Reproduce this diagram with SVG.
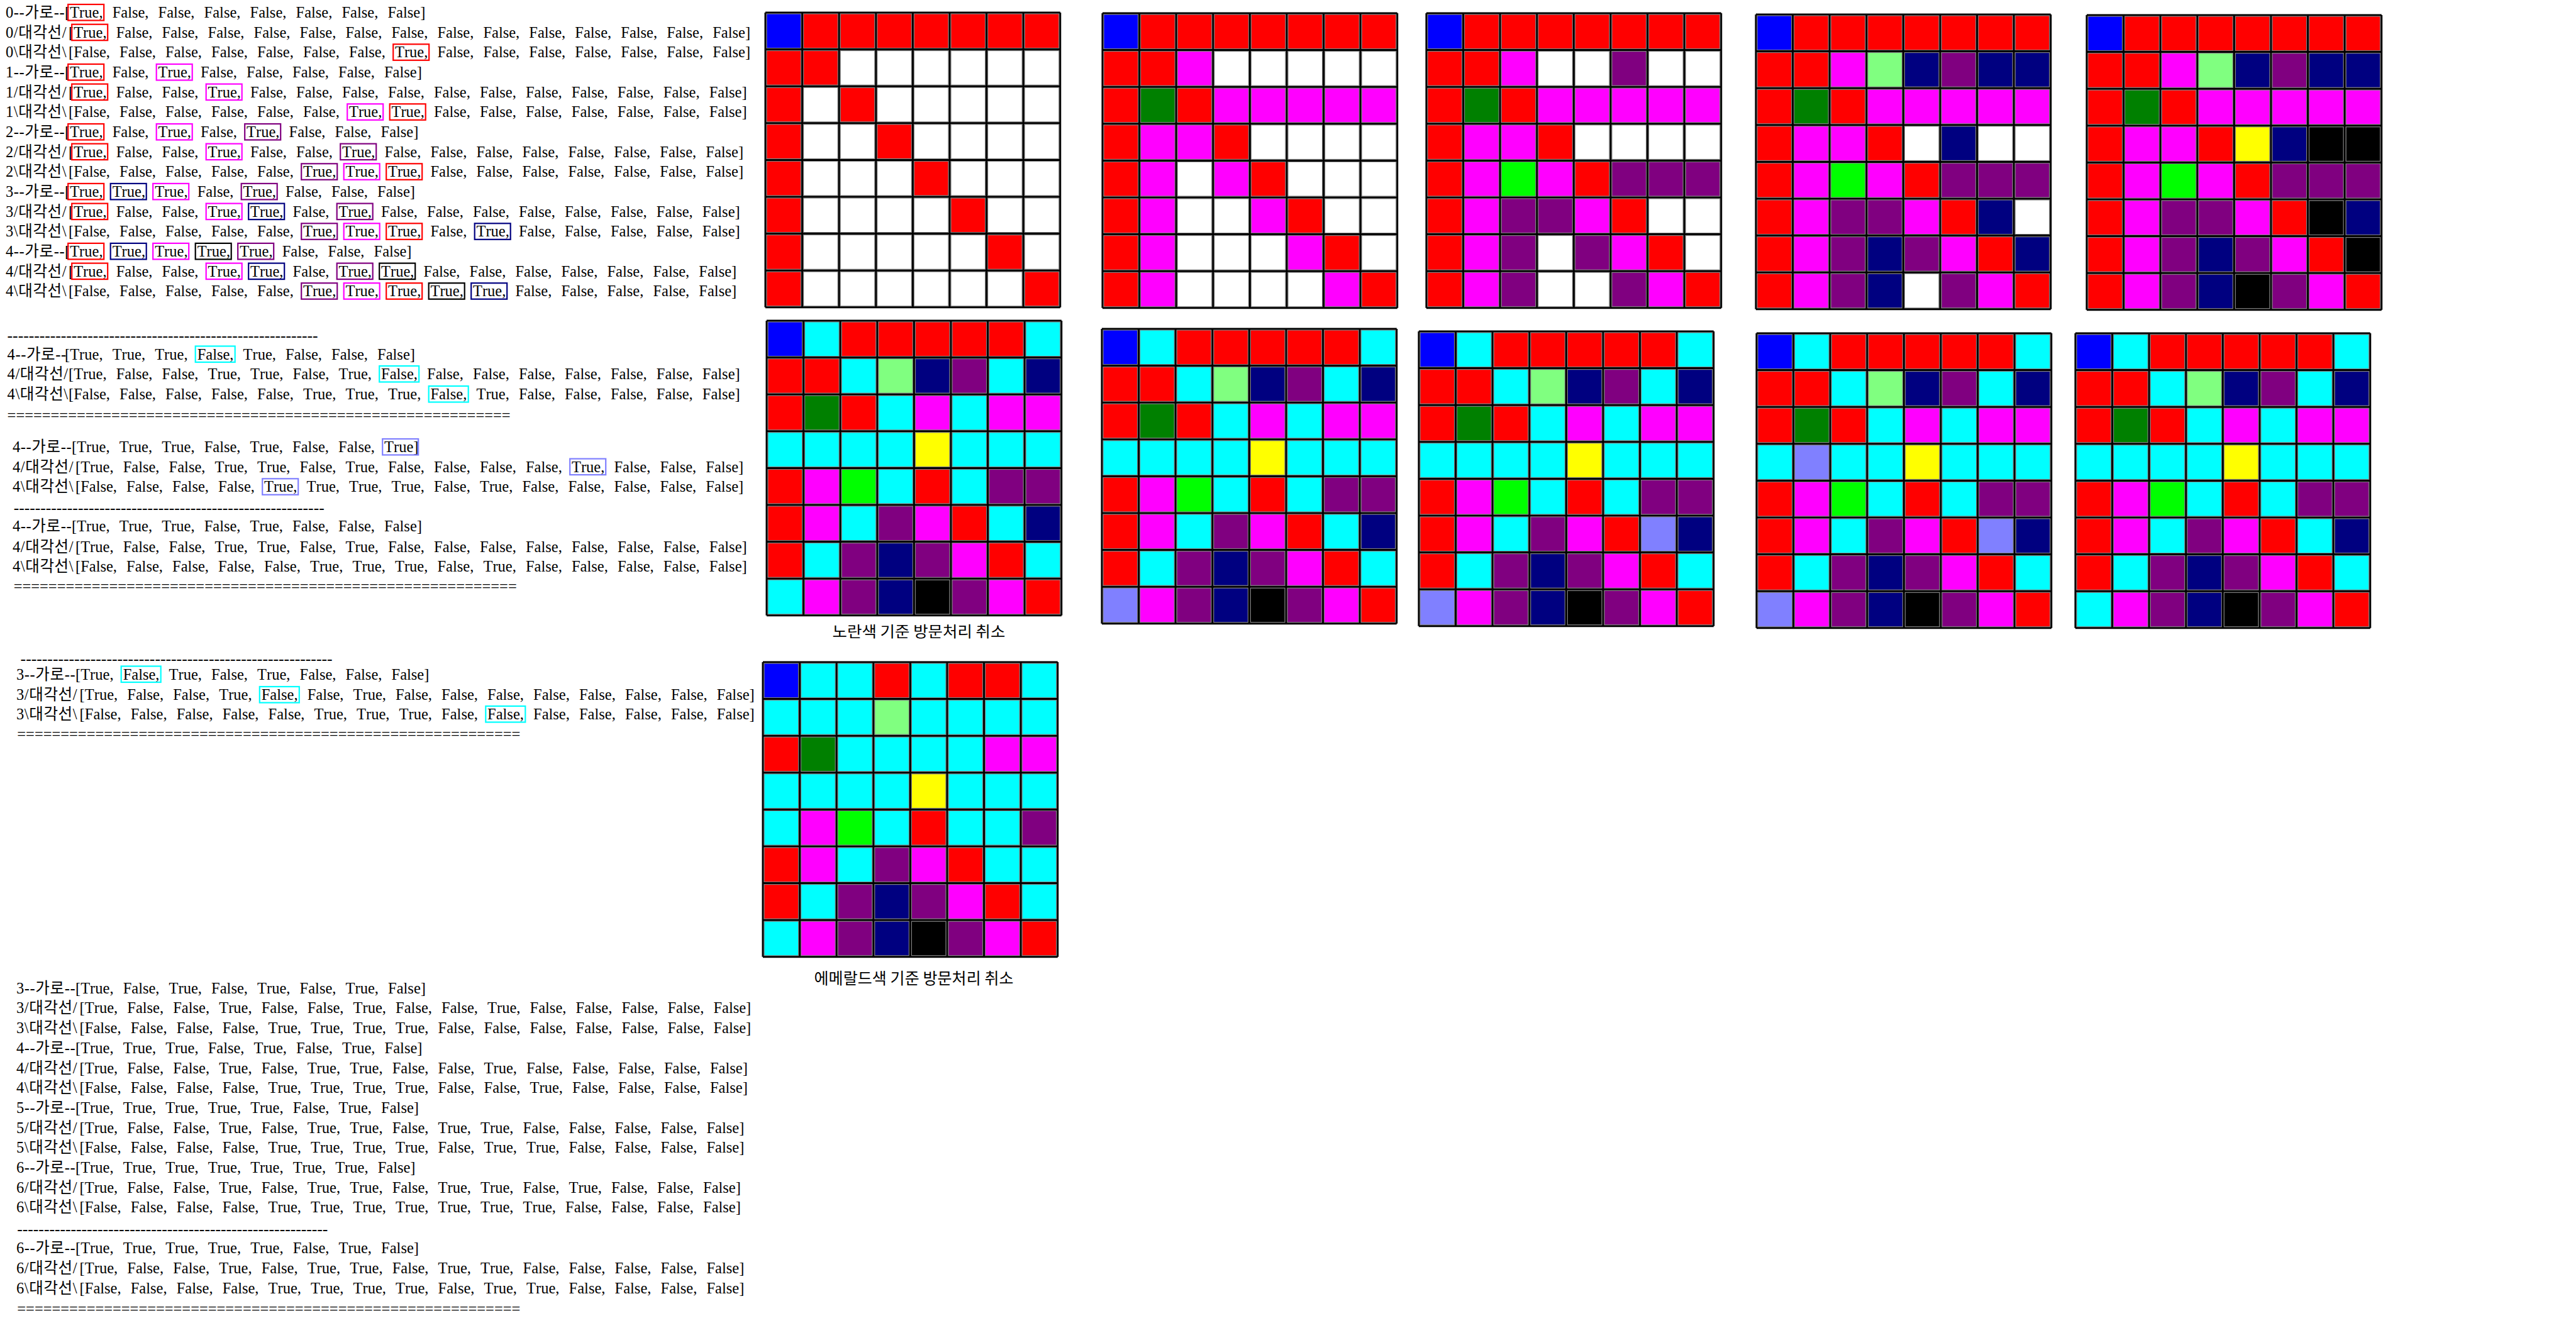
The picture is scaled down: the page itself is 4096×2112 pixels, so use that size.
<svg xmlns="http://www.w3.org/2000/svg" xmlns:xlink="http://www.w3.org/1999/xlink" width="4096" height="2112" viewBox="0 0 4096 2112">
<style>
text.t{font-family:"Liberation Serif","Noto Sans CJK KR",serif;font-size:24.5px;word-spacing:9px;font-kerning:none;fill:#000}
.pf{letter-spacing:0.6px}
text.lab{font-family:"Noto Sans CJK KR",sans-serif;fill:#000;text-anchor:middle}
.bx rect{fill:none;stroke-width:2.2;height:25.5px}
.bx .bT{width:57px}.bx .bF{width:63px}
.sr{stroke:#ff0000}.sm{stroke:#ff00ff}.sp{stroke:#800080}.sn{stroke:#000080}.sk{stroke:#000}.sc{stroke:#00ffff}.sv{stroke:#8080ff}
.grid rect{width:54.6px;height:54.6px;stroke:#808080;stroke-width:1.2}
.gl{fill:none;stroke:#000;stroke-width:3}
.R{fill:#ff0000}.W{fill:#fff}.B{fill:#0000ff}.M{fill:#ff00ff}.G{fill:#008000}.P{fill:#800080}.N{fill:#000080}.L{fill:#80ff80}.Y{fill:#ffff00}.I{fill:#00ff00}.K{fill:#000}.C{fill:#00ffff}.V{fill:#8080ff}
</style>
<defs>
<path id="gridlines" class="gl" d="M0 0H468.8M0 58.6H468.8M0 117.2H468.8M0 175.8H468.8M0 234.4H468.8M0 293H468.8M0 351.6H468.8M0 410.2H468.8M0 468.8H468.8M0 0V468.8M58.6 0V468.8M117.2 0V468.8M175.8 0V468.8M234.4 0V468.8M293 0V468.8M351.6 0V468.8M410.2 0V468.8M468.8 0V468.8"/>
</defs>
<rect width="4096" height="2112" fill="#fff"/>

<g id="log-text">
<text class="t" x="9" y="28"><tspan class="pf">0--가로--</tspan><tspan x="103">[True, False, False, False, False, False, False, False]</tspan></text>
<text class="t" x="9" y="59.7"><tspan class="pf">0/대각선/</tspan><tspan x="109">[True, False, False, False, False, False, False, False, False, False, False, False, False, False, False]</tspan></text>
<text class="t" x="9" y="91.3"><tspan class="pf">0\대각선\</tspan><tspan x="109">[False, False, False, False, False, False, False, True, False, False, False, False, False, False, False]</tspan></text>
<text class="t" x="9" y="123"><tspan class="pf">1--가로--</tspan><tspan x="103">[True, False, True, False, False, False, False, False]</tspan></text>
<text class="t" x="9" y="154.6"><tspan class="pf">1/대각선/</tspan><tspan x="109">[True, False, False, True, False, False, False, False, False, False, False, False, False, False, False]</tspan></text>
<text class="t" x="9" y="186.3"><tspan class="pf">1\대각선\</tspan><tspan x="109">[False, False, False, False, False, False, True, True, False, False, False, False, False, False, False]</tspan></text>
<text class="t" x="9" y="218"><tspan class="pf">2--가로--</tspan><tspan x="103">[True, False, True, False, True, False, False, False]</tspan></text>
<text class="t" x="9" y="249.6"><tspan class="pf">2/대각선/</tspan><tspan x="109">[True, False, False, True, False, False, True, False, False, False, False, False, False, False, False]</tspan></text>
<text class="t" x="9" y="281.3"><tspan class="pf">2\대각선\</tspan><tspan x="109">[False, False, False, False, False, True, True, True, False, False, False, False, False, False, False]</tspan></text>
<text class="t" x="9" y="312.9"><tspan class="pf">3--가로--</tspan><tspan x="103">[True, True, True, False, True, False, False, False]</tspan></text>
<text class="t" x="9" y="344.6"><tspan class="pf">3/대각선/</tspan><tspan x="109">[True, False, False, True, True, False, True, False, False, False, False, False, False, False, False]</tspan></text>
<text class="t" x="9" y="376.3"><tspan class="pf">3\대각선\</tspan><tspan x="109">[False, False, False, False, False, True, True, True, False, True, False, False, False, False, False]</tspan></text>
<text class="t" x="9" y="407.9"><tspan class="pf">4--가로--</tspan><tspan x="103">[True, True, True, True, True, False, False, False]</tspan></text>
<text class="t" x="9" y="439.6"><tspan class="pf">4/대각선/</tspan><tspan x="109">[True, False, False, True, True, False, True, True, False, False, False, False, False, False, False]</tspan></text>
<text class="t" x="9" y="471.2"><tspan class="pf">4\대각선\</tspan><tspan x="109">[False, False, False, False, False, True, True, True, True, True, False, False, False, False, False]</tspan></text>

<text class="t" x="11.6" y="541.5" textLength="494" lengthAdjust="spacingAndGlyphs">----------------------------------------------------------</text>
<text class="t" x="11.6" y="571.5"><tspan class="pf">4--가로--</tspan><tspan x="103">[True, True, True, False, True, False, False, False]</tspan></text>
<text class="t" x="11.6" y="603"><tspan class="pf">4/대각선/</tspan><tspan x="109">[True, False, False, True, True, False, True, False, False, False, False, False, False, False, False]</tspan></text>
<text class="t" x="11.6" y="635"><tspan class="pf">4\대각선\</tspan><tspan x="109">[False, False, False, False, False, True, True, True, False, True, False, False, False, False, False]</tspan></text>
<text class="t" x="11.6" y="668.8" textLength="800" lengthAdjust="spacingAndGlyphs">==========================================================</text>

<text class="t" x="20" y="719"><tspan class="pf">4--가로--</tspan><tspan x="114">[True, True, True, False, True, False, False, True]</tspan></text>
<text class="t" x="20" y="750.6"><tspan class="pf">4/대각선/</tspan><tspan x="120">[True, False, False, True, True, False, True, False, False, False, False, True, False, False, False]</tspan></text>
<text class="t" x="20" y="782.3"><tspan class="pf">4\대각선\</tspan><tspan x="120">[False, False, False, False, True, True, True, True, False, True, False, False, False, False, False]</tspan></text>
<text class="t" x="21.7" y="816" textLength="494" lengthAdjust="spacingAndGlyphs">----------------------------------------------------------</text>
<text class="t" x="20" y="845"><tspan class="pf">4--가로--</tspan><tspan x="114">[True, True, True, False, True, False, False, False]</tspan></text>
<text class="t" x="20" y="877.6"><tspan class="pf">4/대각선/</tspan><tspan x="120">[True, False, False, True, True, False, True, False, False, False, False, False, False, False, False]</tspan></text>
<text class="t" x="20" y="908.5"><tspan class="pf">4\대각선\</tspan><tspan x="120">[False, False, False, False, False, True, True, True, False, True, False, False, False, False, False]</tspan></text>
<text class="t" x="21.7" y="941" textLength="800" lengthAdjust="spacingAndGlyphs">==========================================================</text>

<text class="t" x="32.6" y="1056" textLength="496" lengthAdjust="spacingAndGlyphs">----------------------------------------------------------</text>
<text class="t" x="26" y="1080.5"><tspan class="pf">3--가로--</tspan><tspan x="120">[True, False, True, False, True, False, False, False]</tspan></text>
<text class="t" x="26" y="1113"><tspan class="pf">3/대각선/</tspan><tspan x="126.6">[True, False, False, True, False, False, True, False, False, False, False, False, False, False, False]</tspan></text>
<text class="t" x="26" y="1144"><tspan class="pf">3\대각선\</tspan><tspan x="126.6">[False, False, False, False, False, True, True, True, False, False, False, False, False, False, False]</tspan></text>
<text class="t" x="27.3" y="1176" textLength="800" lengthAdjust="spacingAndGlyphs">==========================================================</text>

<text class="t" x="26" y="1579.7"><tspan class="pf">3--가로--</tspan><tspan x="120">[True, False, True, False, True, False, True, False]</tspan></text>
<text class="t" x="26" y="1611.4"><tspan class="pf">3/대각선/</tspan><tspan x="126.6">[True, False, False, True, False, False, True, False, False, True, False, False, False, False, False]</tspan></text>
<text class="t" x="26" y="1643.1"><tspan class="pf">3\대각선\</tspan><tspan x="126.6">[False, False, False, False, True, True, True, True, False, False, False, False, False, False, False]</tspan></text>
<text class="t" x="26" y="1674.8"><tspan class="pf">4--가로--</tspan><tspan x="120">[True, True, True, False, True, False, True, False]</tspan></text>
<text class="t" x="26" y="1706.5"><tspan class="pf">4/대각선/</tspan><tspan x="126.6">[True, False, False, True, False, True, True, False, False, True, False, False, False, False, False]</tspan></text>
<text class="t" x="26" y="1738.2"><tspan class="pf">4\대각선\</tspan><tspan x="126.6">[False, False, False, False, True, True, True, True, False, False, True, False, False, False, False]</tspan></text>
<text class="t" x="26" y="1769.9"><tspan class="pf">5--가로--</tspan><tspan x="120">[True, True, True, True, True, False, True, False]</tspan></text>
<text class="t" x="26" y="1801.6"><tspan class="pf">5/대각선/</tspan><tspan x="126.6">[True, False, False, True, False, True, True, False, True, True, False, False, False, False, False]</tspan></text>
<text class="t" x="26" y="1833.3"><tspan class="pf">5\대각선\</tspan><tspan x="126.6">[False, False, False, False, True, True, True, True, False, True, True, False, False, False, False]</tspan></text>
<text class="t" x="26" y="1865"><tspan class="pf">6--가로--</tspan><tspan x="120">[True, True, True, True, True, True, True, False]</tspan></text>
<text class="t" x="26" y="1896.7"><tspan class="pf">6/대각선/</tspan><tspan x="126.6">[True, False, False, True, False, True, True, False, True, True, False, True, False, False, False]</tspan></text>
<text class="t" x="26" y="1928.4"><tspan class="pf">6\대각선\</tspan><tspan x="126.6">[False, False, False, False, True, True, True, True, True, True, True, False, False, False, False]</tspan></text>
<text class="t" x="27.3" y="1963" textLength="494" lengthAdjust="spacingAndGlyphs">----------------------------------------------------------</text>
<text class="t" x="26" y="1993.3"><tspan class="pf">6--가로--</tspan><tspan x="120">[True, True, True, True, True, False, True, False]</tspan></text>
<text class="t" x="26" y="2025"><tspan class="pf">6/대각선/</tspan><tspan x="126.6">[True, False, False, True, False, True, True, False, True, True, False, False, False, False, False]</tspan></text>
<text class="t" x="26" y="2056.8"><tspan class="pf">6\대각선\</tspan><tspan x="126.6">[False, False, False, False, True, True, True, True, False, True, True, False, False, False, False]</tspan></text>
<text class="t" x="27.3" y="2090" textLength="800" lengthAdjust="spacingAndGlyphs">==========================================================</text>
</g>

<g id="highlight-boxes" class="bx">
<rect class="bT sr" x="108.2" y="7"/>
<rect class="bT sr" x="114.2" y="38.7"/>
<rect class="bT sr" x="625.2" y="70.3"/>
<rect class="bT sr" x="108.2" y="102"/><rect class="bT sm" x="248.7" y="102"/>
<rect class="bT sr" x="114.2" y="133.6"/><rect class="bT sm" x="327.7" y="133.6"/>
<rect class="bT sm" x="552.2" y="165.3"/><rect class="bT sr" x="619.7" y="165.3"/>
<rect class="bT sr" x="108.2" y="197"/><rect class="bT sm" x="248.7" y="197"/><rect class="bT sp" x="389.2" y="197"/>
<rect class="bT sr" x="114.2" y="228.6"/><rect class="bT sm" x="327.7" y="228.6"/><rect class="bT sp" x="541.2" y="228.6"/>
<rect class="bT sp" x="479.2" y="260.3"/><rect class="bT sm" x="546.7" y="260.3"/><rect class="bT sr" x="614.2" y="260.3"/>
<rect class="bT sr" x="108.2" y="291.9"/><rect class="bT sn" x="175.7" y="291.9"/><rect class="bT sm" x="243.2" y="291.9"/><rect class="bT sp" x="383.7" y="291.9"/>
<rect class="bT sr" x="114.2" y="323.6"/><rect class="bT sm" x="327.7" y="323.6"/><rect class="bT sn" x="395.2" y="323.6"/><rect class="bT sp" x="535.7" y="323.6"/>
<rect class="bT sp" x="479.2" y="355.3"/><rect class="bT sm" x="546.7" y="355.3"/><rect class="bT sr" x="614.2" y="355.3"/><rect class="bT sn" x="754.7" y="355.3"/>
<rect class="bT sr" x="108.2" y="386.9"/><rect class="bT sn" x="175.7" y="386.9"/><rect class="bT sm" x="243.2" y="386.9"/><rect class="bT sk" x="310.7" y="386.9"/><rect class="bT sp" x="378.2" y="386.9"/>
<rect class="bT sr" x="114.2" y="418.6"/><rect class="bT sm" x="327.7" y="418.6"/><rect class="bT sn" x="395.2" y="418.6"/><rect class="bT sp" x="535.7" y="418.6"/><rect class="bT sk" x="603.2" y="418.6"/>
<rect class="bT sp" x="479.2" y="450.2"/><rect class="bT sm" x="546.7" y="450.2"/><rect class="bT sr" x="614.2" y="450.2"/><rect class="bT sk" x="681.7" y="450.2"/><rect class="bT sn" x="749.2" y="450.2"/>
<rect class="bF sc" x="310.7" y="550.5"/>
<rect class="bF sc" x="603.2" y="582"/>
<rect class="bF sc" x="681.7" y="614"/>
<rect class="bT sv" x="608.2" y="698"/>
<rect class="bT sv" x="906.2" y="729.6"/>
<rect class="bT sv" x="417.2" y="761.3"/>
<rect class="bF sc" x="192.7" y="1059.5"/>
<rect class="bF sc" x="412.8" y="1092"/>
<rect class="bF sc" x="772.3" y="1123"/>
</g>

<g id="grid1" class="grid" transform="translate(1217,20)">
<rect class="B" x="2" y="2"/><rect class="R" x="60.6" y="2"/><rect class="R" x="119.2" y="2"/><rect class="R" x="177.8" y="2"/><rect class="R" x="236.4" y="2"/><rect class="R" x="295" y="2"/><rect class="R" x="353.6" y="2"/><rect class="R" x="412.2" y="2"/>
<rect class="R" x="2" y="60.6"/><rect class="R" x="60.6" y="60.6"/><rect class="W" x="119.2" y="60.6"/><rect class="W" x="177.8" y="60.6"/><rect class="W" x="236.4" y="60.6"/><rect class="W" x="295" y="60.6"/><rect class="W" x="353.6" y="60.6"/><rect class="W" x="412.2" y="60.6"/>
<rect class="R" x="2" y="119.2"/><rect class="W" x="60.6" y="119.2"/><rect class="R" x="119.2" y="119.2"/><rect class="W" x="177.8" y="119.2"/><rect class="W" x="236.4" y="119.2"/><rect class="W" x="295" y="119.2"/><rect class="W" x="353.6" y="119.2"/><rect class="W" x="412.2" y="119.2"/>
<rect class="R" x="2" y="177.8"/><rect class="W" x="60.6" y="177.8"/><rect class="W" x="119.2" y="177.8"/><rect class="R" x="177.8" y="177.8"/><rect class="W" x="236.4" y="177.8"/><rect class="W" x="295" y="177.8"/><rect class="W" x="353.6" y="177.8"/><rect class="W" x="412.2" y="177.8"/>
<rect class="R" x="2" y="236.4"/><rect class="W" x="60.6" y="236.4"/><rect class="W" x="119.2" y="236.4"/><rect class="W" x="177.8" y="236.4"/><rect class="R" x="236.4" y="236.4"/><rect class="W" x="295" y="236.4"/><rect class="W" x="353.6" y="236.4"/><rect class="W" x="412.2" y="236.4"/>
<rect class="R" x="2" y="295"/><rect class="W" x="60.6" y="295"/><rect class="W" x="119.2" y="295"/><rect class="W" x="177.8" y="295"/><rect class="W" x="236.4" y="295"/><rect class="R" x="295" y="295"/><rect class="W" x="353.6" y="295"/><rect class="W" x="412.2" y="295"/>
<rect class="R" x="2" y="353.6"/><rect class="W" x="60.6" y="353.6"/><rect class="W" x="119.2" y="353.6"/><rect class="W" x="177.8" y="353.6"/><rect class="W" x="236.4" y="353.6"/><rect class="W" x="295" y="353.6"/><rect class="R" x="353.6" y="353.6"/><rect class="W" x="412.2" y="353.6"/>
<rect class="R" x="2" y="412.2"/><rect class="W" x="60.6" y="412.2"/><rect class="W" x="119.2" y="412.2"/><rect class="W" x="177.8" y="412.2"/><rect class="W" x="236.4" y="412.2"/><rect class="W" x="295" y="412.2"/><rect class="W" x="353.6" y="412.2"/><rect class="R" x="412.2" y="412.2"/>
<use href="#gridlines"/>
</g>

<g id="grid2" class="grid" transform="translate(1753,21)">
<rect class="B" x="2" y="2"/><rect class="R" x="60.6" y="2"/><rect class="R" x="119.2" y="2"/><rect class="R" x="177.8" y="2"/><rect class="R" x="236.4" y="2"/><rect class="R" x="295" y="2"/><rect class="R" x="353.6" y="2"/><rect class="R" x="412.2" y="2"/>
<rect class="R" x="2" y="60.6"/><rect class="R" x="60.6" y="60.6"/><rect class="M" x="119.2" y="60.6"/><rect class="W" x="177.8" y="60.6"/><rect class="W" x="236.4" y="60.6"/><rect class="W" x="295" y="60.6"/><rect class="W" x="353.6" y="60.6"/><rect class="W" x="412.2" y="60.6"/>
<rect class="R" x="2" y="119.2"/><rect class="G" x="60.6" y="119.2"/><rect class="R" x="119.2" y="119.2"/><rect class="M" x="177.8" y="119.2"/><rect class="M" x="236.4" y="119.2"/><rect class="M" x="295" y="119.2"/><rect class="M" x="353.6" y="119.2"/><rect class="M" x="412.2" y="119.2"/>
<rect class="R" x="2" y="177.8"/><rect class="M" x="60.6" y="177.8"/><rect class="M" x="119.2" y="177.8"/><rect class="R" x="177.8" y="177.8"/><rect class="W" x="236.4" y="177.8"/><rect class="W" x="295" y="177.8"/><rect class="W" x="353.6" y="177.8"/><rect class="W" x="412.2" y="177.8"/>
<rect class="R" x="2" y="236.4"/><rect class="M" x="60.6" y="236.4"/><rect class="W" x="119.2" y="236.4"/><rect class="M" x="177.8" y="236.4"/><rect class="R" x="236.4" y="236.4"/><rect class="W" x="295" y="236.4"/><rect class="W" x="353.6" y="236.4"/><rect class="W" x="412.2" y="236.4"/>
<rect class="R" x="2" y="295"/><rect class="M" x="60.6" y="295"/><rect class="W" x="119.2" y="295"/><rect class="W" x="177.8" y="295"/><rect class="M" x="236.4" y="295"/><rect class="R" x="295" y="295"/><rect class="W" x="353.6" y="295"/><rect class="W" x="412.2" y="295"/>
<rect class="R" x="2" y="353.6"/><rect class="M" x="60.6" y="353.6"/><rect class="W" x="119.2" y="353.6"/><rect class="W" x="177.8" y="353.6"/><rect class="W" x="236.4" y="353.6"/><rect class="M" x="295" y="353.6"/><rect class="R" x="353.6" y="353.6"/><rect class="W" x="412.2" y="353.6"/>
<rect class="R" x="2" y="412.2"/><rect class="M" x="60.6" y="412.2"/><rect class="W" x="119.2" y="412.2"/><rect class="W" x="177.8" y="412.2"/><rect class="W" x="236.4" y="412.2"/><rect class="W" x="295" y="412.2"/><rect class="M" x="353.6" y="412.2"/><rect class="R" x="412.2" y="412.2"/>
<use href="#gridlines"/>
</g>

<g id="grid3" class="grid" transform="translate(2268,21)">
<rect class="B" x="2" y="2"/><rect class="R" x="60.6" y="2"/><rect class="R" x="119.2" y="2"/><rect class="R" x="177.8" y="2"/><rect class="R" x="236.4" y="2"/><rect class="R" x="295" y="2"/><rect class="R" x="353.6" y="2"/><rect class="R" x="412.2" y="2"/>
<rect class="R" x="2" y="60.6"/><rect class="R" x="60.6" y="60.6"/><rect class="M" x="119.2" y="60.6"/><rect class="W" x="177.8" y="60.6"/><rect class="W" x="236.4" y="60.6"/><rect class="P" x="295" y="60.6"/><rect class="W" x="353.6" y="60.6"/><rect class="W" x="412.2" y="60.6"/>
<rect class="R" x="2" y="119.2"/><rect class="G" x="60.6" y="119.2"/><rect class="R" x="119.2" y="119.2"/><rect class="M" x="177.8" y="119.2"/><rect class="M" x="236.4" y="119.2"/><rect class="M" x="295" y="119.2"/><rect class="M" x="353.6" y="119.2"/><rect class="M" x="412.2" y="119.2"/>
<rect class="R" x="2" y="177.8"/><rect class="M" x="60.6" y="177.8"/><rect class="M" x="119.2" y="177.8"/><rect class="R" x="177.8" y="177.8"/><rect class="W" x="236.4" y="177.8"/><rect class="W" x="295" y="177.8"/><rect class="W" x="353.6" y="177.8"/><rect class="W" x="412.2" y="177.8"/>
<rect class="R" x="2" y="236.4"/><rect class="M" x="60.6" y="236.4"/><rect class="I" x="119.2" y="236.4"/><rect class="M" x="177.8" y="236.4"/><rect class="R" x="236.4" y="236.4"/><rect class="P" x="295" y="236.4"/><rect class="P" x="353.6" y="236.4"/><rect class="P" x="412.2" y="236.4"/>
<rect class="R" x="2" y="295"/><rect class="M" x="60.6" y="295"/><rect class="P" x="119.2" y="295"/><rect class="P" x="177.8" y="295"/><rect class="M" x="236.4" y="295"/><rect class="R" x="295" y="295"/><rect class="W" x="353.6" y="295"/><rect class="W" x="412.2" y="295"/>
<rect class="R" x="2" y="353.6"/><rect class="M" x="60.6" y="353.6"/><rect class="P" x="119.2" y="353.6"/><rect class="W" x="177.8" y="353.6"/><rect class="P" x="236.4" y="353.6"/><rect class="M" x="295" y="353.6"/><rect class="R" x="353.6" y="353.6"/><rect class="W" x="412.2" y="353.6"/>
<rect class="R" x="2" y="412.2"/><rect class="M" x="60.6" y="412.2"/><rect class="P" x="119.2" y="412.2"/><rect class="W" x="177.8" y="412.2"/><rect class="W" x="236.4" y="412.2"/><rect class="P" x="295" y="412.2"/><rect class="M" x="353.6" y="412.2"/><rect class="R" x="412.2" y="412.2"/>
<use href="#gridlines"/>
</g>

<g id="grid4" class="grid" transform="translate(2792,23)">
<rect class="B" x="2" y="2"/><rect class="R" x="60.6" y="2"/><rect class="R" x="119.2" y="2"/><rect class="R" x="177.8" y="2"/><rect class="R" x="236.4" y="2"/><rect class="R" x="295" y="2"/><rect class="R" x="353.6" y="2"/><rect class="R" x="412.2" y="2"/>
<rect class="R" x="2" y="60.6"/><rect class="R" x="60.6" y="60.6"/><rect class="M" x="119.2" y="60.6"/><rect class="L" x="177.8" y="60.6"/><rect class="N" x="236.4" y="60.6"/><rect class="P" x="295" y="60.6"/><rect class="N" x="353.6" y="60.6"/><rect class="N" x="412.2" y="60.6"/>
<rect class="R" x="2" y="119.2"/><rect class="G" x="60.6" y="119.2"/><rect class="R" x="119.2" y="119.2"/><rect class="M" x="177.8" y="119.2"/><rect class="M" x="236.4" y="119.2"/><rect class="M" x="295" y="119.2"/><rect class="M" x="353.6" y="119.2"/><rect class="M" x="412.2" y="119.2"/>
<rect class="R" x="2" y="177.8"/><rect class="M" x="60.6" y="177.8"/><rect class="M" x="119.2" y="177.8"/><rect class="R" x="177.8" y="177.8"/><rect class="W" x="236.4" y="177.8"/><rect class="N" x="295" y="177.8"/><rect class="W" x="353.6" y="177.8"/><rect class="W" x="412.2" y="177.8"/>
<rect class="R" x="2" y="236.4"/><rect class="M" x="60.6" y="236.4"/><rect class="I" x="119.2" y="236.4"/><rect class="M" x="177.8" y="236.4"/><rect class="R" x="236.4" y="236.4"/><rect class="P" x="295" y="236.4"/><rect class="P" x="353.6" y="236.4"/><rect class="P" x="412.2" y="236.4"/>
<rect class="R" x="2" y="295"/><rect class="M" x="60.6" y="295"/><rect class="P" x="119.2" y="295"/><rect class="P" x="177.8" y="295"/><rect class="M" x="236.4" y="295"/><rect class="R" x="295" y="295"/><rect class="N" x="353.6" y="295"/><rect class="W" x="412.2" y="295"/>
<rect class="R" x="2" y="353.6"/><rect class="M" x="60.6" y="353.6"/><rect class="P" x="119.2" y="353.6"/><rect class="N" x="177.8" y="353.6"/><rect class="P" x="236.4" y="353.6"/><rect class="M" x="295" y="353.6"/><rect class="R" x="353.6" y="353.6"/><rect class="N" x="412.2" y="353.6"/>
<rect class="R" x="2" y="412.2"/><rect class="M" x="60.6" y="412.2"/><rect class="P" x="119.2" y="412.2"/><rect class="N" x="177.8" y="412.2"/><rect class="W" x="236.4" y="412.2"/><rect class="P" x="295" y="412.2"/><rect class="M" x="353.6" y="412.2"/><rect class="R" x="412.2" y="412.2"/>
<use href="#gridlines"/>
</g>

<g id="grid5" class="grid" transform="translate(3318,24)">
<rect class="B" x="2" y="2"/><rect class="R" x="60.6" y="2"/><rect class="R" x="119.2" y="2"/><rect class="R" x="177.8" y="2"/><rect class="R" x="236.4" y="2"/><rect class="R" x="295" y="2"/><rect class="R" x="353.6" y="2"/><rect class="R" x="412.2" y="2"/>
<rect class="R" x="2" y="60.6"/><rect class="R" x="60.6" y="60.6"/><rect class="M" x="119.2" y="60.6"/><rect class="L" x="177.8" y="60.6"/><rect class="N" x="236.4" y="60.6"/><rect class="P" x="295" y="60.6"/><rect class="N" x="353.6" y="60.6"/><rect class="N" x="412.2" y="60.6"/>
<rect class="R" x="2" y="119.2"/><rect class="G" x="60.6" y="119.2"/><rect class="R" x="119.2" y="119.2"/><rect class="M" x="177.8" y="119.2"/><rect class="M" x="236.4" y="119.2"/><rect class="M" x="295" y="119.2"/><rect class="M" x="353.6" y="119.2"/><rect class="M" x="412.2" y="119.2"/>
<rect class="R" x="2" y="177.8"/><rect class="M" x="60.6" y="177.8"/><rect class="M" x="119.2" y="177.8"/><rect class="R" x="177.8" y="177.8"/><rect class="Y" x="236.4" y="177.8"/><rect class="N" x="295" y="177.8"/><rect class="K" x="353.6" y="177.8"/><rect class="K" x="412.2" y="177.8"/>
<rect class="R" x="2" y="236.4"/><rect class="M" x="60.6" y="236.4"/><rect class="I" x="119.2" y="236.4"/><rect class="M" x="177.8" y="236.4"/><rect class="R" x="236.4" y="236.4"/><rect class="P" x="295" y="236.4"/><rect class="P" x="353.6" y="236.4"/><rect class="P" x="412.2" y="236.4"/>
<rect class="R" x="2" y="295"/><rect class="M" x="60.6" y="295"/><rect class="P" x="119.2" y="295"/><rect class="P" x="177.8" y="295"/><rect class="M" x="236.4" y="295"/><rect class="R" x="295" y="295"/><rect class="K" x="353.6" y="295"/><rect class="N" x="412.2" y="295"/>
<rect class="R" x="2" y="353.6"/><rect class="M" x="60.6" y="353.6"/><rect class="P" x="119.2" y="353.6"/><rect class="N" x="177.8" y="353.6"/><rect class="P" x="236.4" y="353.6"/><rect class="M" x="295" y="353.6"/><rect class="R" x="353.6" y="353.6"/><rect class="K" x="412.2" y="353.6"/>
<rect class="R" x="2" y="412.2"/><rect class="M" x="60.6" y="412.2"/><rect class="P" x="119.2" y="412.2"/><rect class="N" x="177.8" y="412.2"/><rect class="K" x="236.4" y="412.2"/><rect class="P" x="295" y="412.2"/><rect class="M" x="353.6" y="412.2"/><rect class="R" x="412.2" y="412.2"/>
<use href="#gridlines"/>
</g>

<g id="grid6" class="grid" transform="translate(1219,510)">
<rect class="B" x="2" y="2"/><rect class="C" x="60.6" y="2"/><rect class="R" x="119.2" y="2"/><rect class="R" x="177.8" y="2"/><rect class="R" x="236.4" y="2"/><rect class="R" x="295" y="2"/><rect class="R" x="353.6" y="2"/><rect class="C" x="412.2" y="2"/>
<rect class="R" x="2" y="60.6"/><rect class="R" x="60.6" y="60.6"/><rect class="C" x="119.2" y="60.6"/><rect class="L" x="177.8" y="60.6"/><rect class="N" x="236.4" y="60.6"/><rect class="P" x="295" y="60.6"/><rect class="C" x="353.6" y="60.6"/><rect class="N" x="412.2" y="60.6"/>
<rect class="R" x="2" y="119.2"/><rect class="G" x="60.6" y="119.2"/><rect class="R" x="119.2" y="119.2"/><rect class="C" x="177.8" y="119.2"/><rect class="M" x="236.4" y="119.2"/><rect class="C" x="295" y="119.2"/><rect class="M" x="353.6" y="119.2"/><rect class="M" x="412.2" y="119.2"/>
<rect class="C" x="2" y="177.8"/><rect class="C" x="60.6" y="177.8"/><rect class="C" x="119.2" y="177.8"/><rect class="C" x="177.8" y="177.8"/><rect class="Y" x="236.4" y="177.8"/><rect class="C" x="295" y="177.8"/><rect class="C" x="353.6" y="177.8"/><rect class="C" x="412.2" y="177.8"/>
<rect class="R" x="2" y="236.4"/><rect class="M" x="60.6" y="236.4"/><rect class="I" x="119.2" y="236.4"/><rect class="C" x="177.8" y="236.4"/><rect class="R" x="236.4" y="236.4"/><rect class="C" x="295" y="236.4"/><rect class="P" x="353.6" y="236.4"/><rect class="P" x="412.2" y="236.4"/>
<rect class="R" x="2" y="295"/><rect class="M" x="60.6" y="295"/><rect class="C" x="119.2" y="295"/><rect class="P" x="177.8" y="295"/><rect class="M" x="236.4" y="295"/><rect class="R" x="295" y="295"/><rect class="C" x="353.6" y="295"/><rect class="N" x="412.2" y="295"/>
<rect class="R" x="2" y="353.6"/><rect class="C" x="60.6" y="353.6"/><rect class="P" x="119.2" y="353.6"/><rect class="N" x="177.8" y="353.6"/><rect class="P" x="236.4" y="353.6"/><rect class="M" x="295" y="353.6"/><rect class="R" x="353.6" y="353.6"/><rect class="C" x="412.2" y="353.6"/>
<rect class="C" x="2" y="412.2"/><rect class="M" x="60.6" y="412.2"/><rect class="P" x="119.2" y="412.2"/><rect class="N" x="177.8" y="412.2"/><rect class="K" x="236.4" y="412.2"/><rect class="P" x="295" y="412.2"/><rect class="M" x="353.6" y="412.2"/><rect class="R" x="412.2" y="412.2"/>
<use href="#gridlines"/>
</g>

<g id="grid7" class="grid" transform="translate(1752,523)">
<rect class="B" x="2" y="2"/><rect class="C" x="60.6" y="2"/><rect class="R" x="119.2" y="2"/><rect class="R" x="177.8" y="2"/><rect class="R" x="236.4" y="2"/><rect class="R" x="295" y="2"/><rect class="R" x="353.6" y="2"/><rect class="C" x="412.2" y="2"/>
<rect class="R" x="2" y="60.6"/><rect class="R" x="60.6" y="60.6"/><rect class="C" x="119.2" y="60.6"/><rect class="L" x="177.8" y="60.6"/><rect class="N" x="236.4" y="60.6"/><rect class="P" x="295" y="60.6"/><rect class="C" x="353.6" y="60.6"/><rect class="N" x="412.2" y="60.6"/>
<rect class="R" x="2" y="119.2"/><rect class="G" x="60.6" y="119.2"/><rect class="R" x="119.2" y="119.2"/><rect class="C" x="177.8" y="119.2"/><rect class="M" x="236.4" y="119.2"/><rect class="C" x="295" y="119.2"/><rect class="M" x="353.6" y="119.2"/><rect class="M" x="412.2" y="119.2"/>
<rect class="C" x="2" y="177.8"/><rect class="C" x="60.6" y="177.8"/><rect class="C" x="119.2" y="177.8"/><rect class="C" x="177.8" y="177.8"/><rect class="Y" x="236.4" y="177.8"/><rect class="C" x="295" y="177.8"/><rect class="C" x="353.6" y="177.8"/><rect class="C" x="412.2" y="177.8"/>
<rect class="R" x="2" y="236.4"/><rect class="M" x="60.6" y="236.4"/><rect class="I" x="119.2" y="236.4"/><rect class="C" x="177.8" y="236.4"/><rect class="R" x="236.4" y="236.4"/><rect class="C" x="295" y="236.4"/><rect class="P" x="353.6" y="236.4"/><rect class="P" x="412.2" y="236.4"/>
<rect class="R" x="2" y="295"/><rect class="M" x="60.6" y="295"/><rect class="C" x="119.2" y="295"/><rect class="P" x="177.8" y="295"/><rect class="M" x="236.4" y="295"/><rect class="R" x="295" y="295"/><rect class="C" x="353.6" y="295"/><rect class="N" x="412.2" y="295"/>
<rect class="R" x="2" y="353.6"/><rect class="C" x="60.6" y="353.6"/><rect class="P" x="119.2" y="353.6"/><rect class="N" x="177.8" y="353.6"/><rect class="P" x="236.4" y="353.6"/><rect class="M" x="295" y="353.6"/><rect class="R" x="353.6" y="353.6"/><rect class="C" x="412.2" y="353.6"/>
<rect class="V" x="2" y="412.2"/><rect class="M" x="60.6" y="412.2"/><rect class="P" x="119.2" y="412.2"/><rect class="N" x="177.8" y="412.2"/><rect class="K" x="236.4" y="412.2"/><rect class="P" x="295" y="412.2"/><rect class="M" x="353.6" y="412.2"/><rect class="R" x="412.2" y="412.2"/>
<use href="#gridlines"/>
</g>

<g id="grid8" class="grid" transform="translate(2256,527)">
<rect class="B" x="2" y="2"/><rect class="C" x="60.6" y="2"/><rect class="R" x="119.2" y="2"/><rect class="R" x="177.8" y="2"/><rect class="R" x="236.4" y="2"/><rect class="R" x="295" y="2"/><rect class="R" x="353.6" y="2"/><rect class="C" x="412.2" y="2"/>
<rect class="R" x="2" y="60.6"/><rect class="R" x="60.6" y="60.6"/><rect class="C" x="119.2" y="60.6"/><rect class="L" x="177.8" y="60.6"/><rect class="N" x="236.4" y="60.6"/><rect class="P" x="295" y="60.6"/><rect class="C" x="353.6" y="60.6"/><rect class="N" x="412.2" y="60.6"/>
<rect class="R" x="2" y="119.2"/><rect class="G" x="60.6" y="119.2"/><rect class="R" x="119.2" y="119.2"/><rect class="C" x="177.8" y="119.2"/><rect class="M" x="236.4" y="119.2"/><rect class="C" x="295" y="119.2"/><rect class="M" x="353.6" y="119.2"/><rect class="M" x="412.2" y="119.2"/>
<rect class="C" x="2" y="177.8"/><rect class="C" x="60.6" y="177.8"/><rect class="C" x="119.2" y="177.8"/><rect class="C" x="177.8" y="177.8"/><rect class="Y" x="236.4" y="177.8"/><rect class="C" x="295" y="177.8"/><rect class="C" x="353.6" y="177.8"/><rect class="C" x="412.2" y="177.8"/>
<rect class="R" x="2" y="236.4"/><rect class="M" x="60.6" y="236.4"/><rect class="I" x="119.2" y="236.4"/><rect class="C" x="177.8" y="236.4"/><rect class="R" x="236.4" y="236.4"/><rect class="C" x="295" y="236.4"/><rect class="P" x="353.6" y="236.4"/><rect class="P" x="412.2" y="236.4"/>
<rect class="R" x="2" y="295"/><rect class="M" x="60.6" y="295"/><rect class="C" x="119.2" y="295"/><rect class="P" x="177.8" y="295"/><rect class="M" x="236.4" y="295"/><rect class="R" x="295" y="295"/><rect class="V" x="353.6" y="295"/><rect class="N" x="412.2" y="295"/>
<rect class="R" x="2" y="353.6"/><rect class="C" x="60.6" y="353.6"/><rect class="P" x="119.2" y="353.6"/><rect class="N" x="177.8" y="353.6"/><rect class="P" x="236.4" y="353.6"/><rect class="M" x="295" y="353.6"/><rect class="R" x="353.6" y="353.6"/><rect class="C" x="412.2" y="353.6"/>
<rect class="V" x="2" y="412.2"/><rect class="M" x="60.6" y="412.2"/><rect class="P" x="119.2" y="412.2"/><rect class="N" x="177.8" y="412.2"/><rect class="K" x="236.4" y="412.2"/><rect class="P" x="295" y="412.2"/><rect class="M" x="353.6" y="412.2"/><rect class="R" x="412.2" y="412.2"/>
<use href="#gridlines"/>
</g>

<g id="grid9" class="grid" transform="translate(2793,530)">
<rect class="B" x="2" y="2"/><rect class="C" x="60.6" y="2"/><rect class="R" x="119.2" y="2"/><rect class="R" x="177.8" y="2"/><rect class="R" x="236.4" y="2"/><rect class="R" x="295" y="2"/><rect class="R" x="353.6" y="2"/><rect class="C" x="412.2" y="2"/>
<rect class="R" x="2" y="60.6"/><rect class="R" x="60.6" y="60.6"/><rect class="C" x="119.2" y="60.6"/><rect class="L" x="177.8" y="60.6"/><rect class="N" x="236.4" y="60.6"/><rect class="P" x="295" y="60.6"/><rect class="C" x="353.6" y="60.6"/><rect class="N" x="412.2" y="60.6"/>
<rect class="R" x="2" y="119.2"/><rect class="G" x="60.6" y="119.2"/><rect class="R" x="119.2" y="119.2"/><rect class="C" x="177.8" y="119.2"/><rect class="M" x="236.4" y="119.2"/><rect class="C" x="295" y="119.2"/><rect class="M" x="353.6" y="119.2"/><rect class="M" x="412.2" y="119.2"/>
<rect class="C" x="2" y="177.8"/><rect class="V" x="60.6" y="177.8"/><rect class="C" x="119.2" y="177.8"/><rect class="C" x="177.8" y="177.8"/><rect class="Y" x="236.4" y="177.8"/><rect class="C" x="295" y="177.8"/><rect class="C" x="353.6" y="177.8"/><rect class="C" x="412.2" y="177.8"/>
<rect class="R" x="2" y="236.4"/><rect class="M" x="60.6" y="236.4"/><rect class="I" x="119.2" y="236.4"/><rect class="C" x="177.8" y="236.4"/><rect class="R" x="236.4" y="236.4"/><rect class="C" x="295" y="236.4"/><rect class="P" x="353.6" y="236.4"/><rect class="P" x="412.2" y="236.4"/>
<rect class="R" x="2" y="295"/><rect class="M" x="60.6" y="295"/><rect class="C" x="119.2" y="295"/><rect class="P" x="177.8" y="295"/><rect class="M" x="236.4" y="295"/><rect class="R" x="295" y="295"/><rect class="V" x="353.6" y="295"/><rect class="N" x="412.2" y="295"/>
<rect class="R" x="2" y="353.6"/><rect class="C" x="60.6" y="353.6"/><rect class="P" x="119.2" y="353.6"/><rect class="N" x="177.8" y="353.6"/><rect class="P" x="236.4" y="353.6"/><rect class="M" x="295" y="353.6"/><rect class="R" x="353.6" y="353.6"/><rect class="C" x="412.2" y="353.6"/>
<rect class="V" x="2" y="412.2"/><rect class="M" x="60.6" y="412.2"/><rect class="P" x="119.2" y="412.2"/><rect class="N" x="177.8" y="412.2"/><rect class="K" x="236.4" y="412.2"/><rect class="P" x="295" y="412.2"/><rect class="M" x="353.6" y="412.2"/><rect class="R" x="412.2" y="412.2"/>
<use href="#gridlines"/>
</g>

<g id="grid10" class="grid" transform="translate(3300,530)">
<rect class="B" x="2" y="2"/><rect class="C" x="60.6" y="2"/><rect class="R" x="119.2" y="2"/><rect class="R" x="177.8" y="2"/><rect class="R" x="236.4" y="2"/><rect class="R" x="295" y="2"/><rect class="R" x="353.6" y="2"/><rect class="C" x="412.2" y="2"/>
<rect class="R" x="2" y="60.6"/><rect class="R" x="60.6" y="60.6"/><rect class="C" x="119.2" y="60.6"/><rect class="L" x="177.8" y="60.6"/><rect class="N" x="236.4" y="60.6"/><rect class="P" x="295" y="60.6"/><rect class="C" x="353.6" y="60.6"/><rect class="N" x="412.2" y="60.6"/>
<rect class="R" x="2" y="119.2"/><rect class="G" x="60.6" y="119.2"/><rect class="R" x="119.2" y="119.2"/><rect class="C" x="177.8" y="119.2"/><rect class="M" x="236.4" y="119.2"/><rect class="C" x="295" y="119.2"/><rect class="M" x="353.6" y="119.2"/><rect class="M" x="412.2" y="119.2"/>
<rect class="C" x="2" y="177.8"/><rect class="C" x="60.6" y="177.8"/><rect class="C" x="119.2" y="177.8"/><rect class="C" x="177.8" y="177.8"/><rect class="Y" x="236.4" y="177.8"/><rect class="C" x="295" y="177.8"/><rect class="C" x="353.6" y="177.8"/><rect class="C" x="412.2" y="177.8"/>
<rect class="R" x="2" y="236.4"/><rect class="M" x="60.6" y="236.4"/><rect class="I" x="119.2" y="236.4"/><rect class="C" x="177.8" y="236.4"/><rect class="R" x="236.4" y="236.4"/><rect class="C" x="295" y="236.4"/><rect class="P" x="353.6" y="236.4"/><rect class="P" x="412.2" y="236.4"/>
<rect class="R" x="2" y="295"/><rect class="M" x="60.6" y="295"/><rect class="C" x="119.2" y="295"/><rect class="P" x="177.8" y="295"/><rect class="M" x="236.4" y="295"/><rect class="R" x="295" y="295"/><rect class="C" x="353.6" y="295"/><rect class="N" x="412.2" y="295"/>
<rect class="R" x="2" y="353.6"/><rect class="C" x="60.6" y="353.6"/><rect class="P" x="119.2" y="353.6"/><rect class="N" x="177.8" y="353.6"/><rect class="P" x="236.4" y="353.6"/><rect class="M" x="295" y="353.6"/><rect class="R" x="353.6" y="353.6"/><rect class="C" x="412.2" y="353.6"/>
<rect class="C" x="2" y="412.2"/><rect class="M" x="60.6" y="412.2"/><rect class="P" x="119.2" y="412.2"/><rect class="N" x="177.8" y="412.2"/><rect class="K" x="236.4" y="412.2"/><rect class="P" x="295" y="412.2"/><rect class="M" x="353.6" y="412.2"/><rect class="R" x="412.2" y="412.2"/>
<use href="#gridlines"/>
</g>

<g id="grid11" class="grid" transform="translate(1213,1053)">
<rect class="B" x="2" y="2"/><rect class="C" x="60.6" y="2"/><rect class="C" x="119.2" y="2"/><rect class="R" x="177.8" y="2"/><rect class="C" x="236.4" y="2"/><rect class="R" x="295" y="2"/><rect class="R" x="353.6" y="2"/><rect class="C" x="412.2" y="2"/>
<rect class="C" x="2" y="60.6"/><rect class="C" x="60.6" y="60.6"/><rect class="C" x="119.2" y="60.6"/><rect class="L" x="177.8" y="60.6"/><rect class="C" x="236.4" y="60.6"/><rect class="C" x="295" y="60.6"/><rect class="C" x="353.6" y="60.6"/><rect class="C" x="412.2" y="60.6"/>
<rect class="R" x="2" y="119.2"/><rect class="G" x="60.6" y="119.2"/><rect class="C" x="119.2" y="119.2"/><rect class="C" x="177.8" y="119.2"/><rect class="C" x="236.4" y="119.2"/><rect class="C" x="295" y="119.2"/><rect class="M" x="353.6" y="119.2"/><rect class="M" x="412.2" y="119.2"/>
<rect class="C" x="2" y="177.8"/><rect class="C" x="60.6" y="177.8"/><rect class="C" x="119.2" y="177.8"/><rect class="C" x="177.8" y="177.8"/><rect class="Y" x="236.4" y="177.8"/><rect class="C" x="295" y="177.8"/><rect class="C" x="353.6" y="177.8"/><rect class="C" x="412.2" y="177.8"/>
<rect class="C" x="2" y="236.4"/><rect class="M" x="60.6" y="236.4"/><rect class="I" x="119.2" y="236.4"/><rect class="C" x="177.8" y="236.4"/><rect class="R" x="236.4" y="236.4"/><rect class="C" x="295" y="236.4"/><rect class="C" x="353.6" y="236.4"/><rect class="P" x="412.2" y="236.4"/>
<rect class="R" x="2" y="295"/><rect class="M" x="60.6" y="295"/><rect class="C" x="119.2" y="295"/><rect class="P" x="177.8" y="295"/><rect class="M" x="236.4" y="295"/><rect class="R" x="295" y="295"/><rect class="C" x="353.6" y="295"/><rect class="C" x="412.2" y="295"/>
<rect class="R" x="2" y="353.6"/><rect class="C" x="60.6" y="353.6"/><rect class="P" x="119.2" y="353.6"/><rect class="N" x="177.8" y="353.6"/><rect class="P" x="236.4" y="353.6"/><rect class="M" x="295" y="353.6"/><rect class="R" x="353.6" y="353.6"/><rect class="C" x="412.2" y="353.6"/>
<rect class="C" x="2" y="412.2"/><rect class="M" x="60.6" y="412.2"/><rect class="P" x="119.2" y="412.2"/><rect class="N" x="177.8" y="412.2"/><rect class="K" x="236.4" y="412.2"/><rect class="P" x="295" y="412.2"/><rect class="M" x="353.6" y="412.2"/><rect class="R" x="412.2" y="412.2"/>
<use href="#gridlines"/>
</g>

<g id="captions">
<text class="lab" x="1461" y="1013" font-size="24" textLength="275" lengthAdjust="spacingAndGlyphs">노란색 기준 방문처리 취소</text>
<text class="lab" x="1453" y="1565" font-size="25" textLength="317" lengthAdjust="spacing">에메랄드색 기준 방문처리 취소</text>
</g>

<g id="connectors"></g>
</svg>
